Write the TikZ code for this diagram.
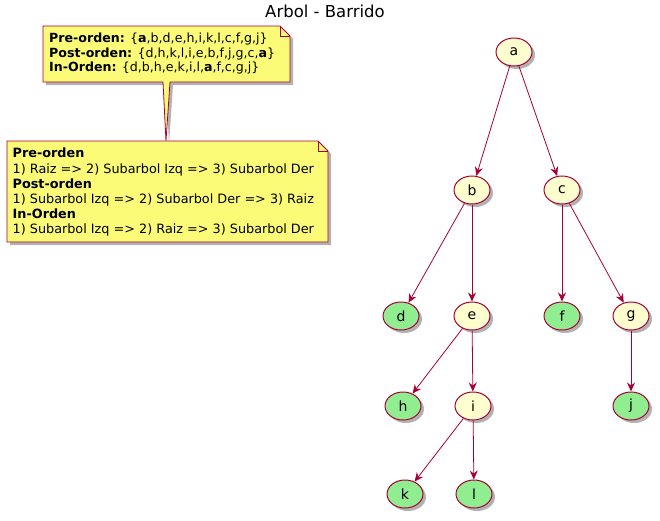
\documentclass[tikz,border=0pt]{standalone}
\usepackage{fontspec}
\setmainfont{DejaVu Sans}
\usetikzlibrary{shapes.geometric,arrows.meta,shadows}

\definecolor{umlred}{HTML}{A80036}
\definecolor{umlyellow}{HTML}{FEFECE}
\definecolor{umlgreen}{HTML}{90EE90}
\definecolor{notefill}{HTML}{FBFB77}

\tikzset{
  umlshadow/.style={drop shadow={shadow xshift=3pt,shadow yshift=-3pt,fill=black,opacity=.3}},
  vertex/.style={ellipse,draw=umlred,fill=umlyellow,line width=1pt,minimum width=36pt,minimum height=28pt,inner sep=0pt,font=\fontsize{14}{14}\selectfont,umlshadow},
  leaf/.style={vertex,fill=umlgreen},
  branch/.style={umlred,line width=0.8pt,-{Stealth[length=9pt,width=8pt,inset=3pt]}},
  notebox/.style={draw=umlred,fill=notefill,line width=0.8pt,umlshadow},
  notetext/.style={anchor=north west,align=left,inner sep=0pt,font=\fontsize{12.6}{14.6}\selectfont},
}

\begin{document}
\begin{tikzpicture}[x=1pt,y=-1pt]
\useasboundingbox (0,0) rectangle (660,520);

\node (title) at (325,11) {\fontsize{16.5}{18}\selectfont Arbol - Barrido};

% notes
\draw[notebox] (43,26) -- (280,26) -- (290,36) -- (290,82) -- (170,82) -- (166,141) -- (163,82) -- (43,82) -- cycle; % note 1
\draw[umlred,line width=0.8pt] (280,26) -- (280,36) -- (290,36);
\draw[notebox] (7,141) -- (318,141) -- (328,151) -- (328,242) -- (7,242) -- cycle; % note 2
\draw[umlred,line width=0.8pt] (318,141) -- (318,151) -- (328,151);

\node[notetext] (lists) at (49,33) {\textbf{Pre-orden:} \{\textbf{a},b,d,e,h,i,k,l,c,f,g,j\}\\
\textbf{Post-orden:} \{d,h,k,l,i,e,b,f,j,g,c,\textbf{a}\}\\
\textbf{In-Orden:} \{d,b,h,e,k,i,l,\textbf{a},f,c,g,j\}};
\node[notetext,font=\fontsize{12.8}{15.1}\selectfont] (rules) at (12.5,148) {\textbf{Pre-orden}\\
1) Raiz => 2) Subarbol Izq => 3) Subarbol Der\\
\textbf{Post-orden}\\
1) Subarbol Izq => 2) Subarbol Der => 3) Raiz\\
\textbf{In-Orden}\\
1) Subarbol Izq => 2) Raiz => 3) Subarbol Der};

% tree
\node[vertex] (a) at (514,52) {a};
\node[vertex] (b) at (472,190) {b};
\node[vertex] (c) at (562,190) {c};
\node[leaf] (d) at (401,316) {d};
\node[vertex] (e) at (472,316) {e};
\node[leaf] (f) at (562,316) {f};
\node[vertex] (g) at (631,316) {g};
\node[leaf] (h) at (403,406) {h};
\node[vertex] (i) at (473,406) {i};
\node[leaf] (j) at (631,406) {j};
\node[leaf] (k) at (405,494) {k};
\node[leaf] (l) at (474,494) {l};

\draw[branch] (a) -- (b);
\draw[branch] (a) -- (c);
\draw[branch] (b) -- (d);
\draw[branch] (b) -- (e);
\draw[branch] (c) -- (f);
\draw[branch] (c) -- (g);
\draw[branch] (e) -- (h);
\draw[branch] (e) -- (i);
\draw[branch] (g) -- (j);
\draw[branch] (i) -- (k);
\draw[branch] (i) -- (l);

\end{tikzpicture}
\end{document}
